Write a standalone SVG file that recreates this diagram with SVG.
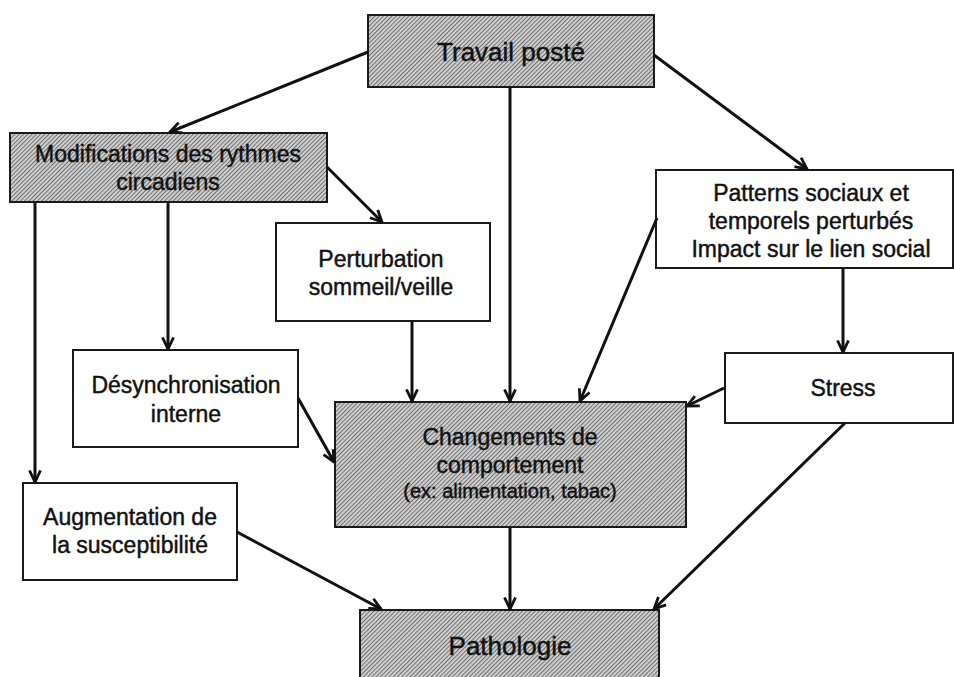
<svg xmlns="http://www.w3.org/2000/svg" width="954" height="677" viewBox="0 0 954 677">
<defs>
<pattern id="hatch" width="3" height="3" patternUnits="userSpaceOnUse" patternTransform="rotate(45)">
<rect width="3" height="3" fill="#d4d4d4"/>
<rect width="1.1" height="3" fill="#707070"/>
</pattern>
<marker id="arr" viewBox="0 0 14 14" refX="12.5" refY="7" markerWidth="14" markerHeight="14" markerUnits="userSpaceOnUse" orient="auto">
<path d="M1,1.5 L12.5,7 L1,12.5" fill="none" stroke="#111" stroke-width="2.8" stroke-linejoin="miter"/>
</marker>
<style>
.box{fill:#fff;stroke:#1a1a1a;stroke-width:2}
.shade{fill:url(#hatch);stroke:#1a1a1a;stroke-width:2}
text{font-family:"Liberation Sans",Arial,sans-serif;font-size:23px;fill:#111;stroke:#111;stroke-width:0.45;text-anchor:middle}
.big{font-size:26px}
.small{font-size:20px}
.conn line{stroke:#111;stroke-width:3;marker-end:url(#arr)}
</style>
</defs>
<rect width="954" height="677" fill="#fff"/>

<g id="travail">
<rect class="shade" x="368" y="15" width="286" height="72"/>
<text class="big" x="511" y="61">Travail posté</text>
</g>
<g id="modifications">
<rect class="shade" x="10" y="133" width="317" height="69"/>
<text x="168" y="162">Modifications des rythmes</text>
<text x="168" y="190">circadiens</text>
</g>
<g id="perturbation">
<rect class="box" x="276" y="223" width="214" height="98"/>
<text x="381" y="267">Perturbation</text>
<text x="381" y="295">sommeil/veille</text>
</g>
<g id="patterns">
<rect class="box" x="656" y="170" width="297" height="98"/>
<text x="811" y="201">Patterns sociaux et</text>
<text x="811" y="229">temporels perturbés</text>
<text x="811" y="257">Impact sur le lien social</text>
</g>
<g id="desynchronisation">
<rect class="box" x="73" y="350" width="225" height="97"/>
<text x="186" y="393">Désynchronisation</text>
<text x="186" y="422">interne</text>
</g>
<g id="stress">
<rect class="box" x="725" y="353" width="228" height="70"/>
<text x="843" y="396">Stress</text>
</g>
<g id="changements">
<rect class="shade" x="335" y="402" width="351" height="125"/>
<text x="510" y="445">Changements de</text>
<text x="510" y="473">comportement</text>
<text class="small" x="510" y="498">(ex: alimentation, tabac)</text>
</g>
<g id="augmentation">
<rect class="box" x="23" y="483" width="214" height="97"/>
<text x="130" y="525">Augmentation de</text>
<text x="130" y="553">la susceptibilité</text>
</g>
<g id="pathologie">
<rect class="shade" x="360" y="610" width="299" height="80"/>
<text class="big" x="510" y="655">Pathologie</text>
</g>

<g id="connectors" class="conn">
<line x1="368" y1="52" x2="170" y2="132"/>
<line x1="510" y1="87" x2="510" y2="401"/>
<line x1="654" y1="55" x2="807" y2="169"/>
<line x1="327" y1="167" x2="382" y2="222"/>
<line x1="35" y1="202" x2="35" y2="482"/>
<line x1="168" y1="202" x2="168" y2="349"/>
<line x1="412" y1="321" x2="412" y2="401"/>
<line x1="657" y1="218" x2="580" y2="401"/>
<line x1="843" y1="268" x2="843" y2="352"/>
<line x1="724" y1="388" x2="687" y2="406"/>
<line x1="298" y1="398" x2="334" y2="462"/>
<line x1="237" y1="532" x2="381" y2="609"/>
<line x1="510" y1="527" x2="510" y2="609"/>
<line x1="845" y1="423" x2="654" y2="609"/>
</g>
</svg>
